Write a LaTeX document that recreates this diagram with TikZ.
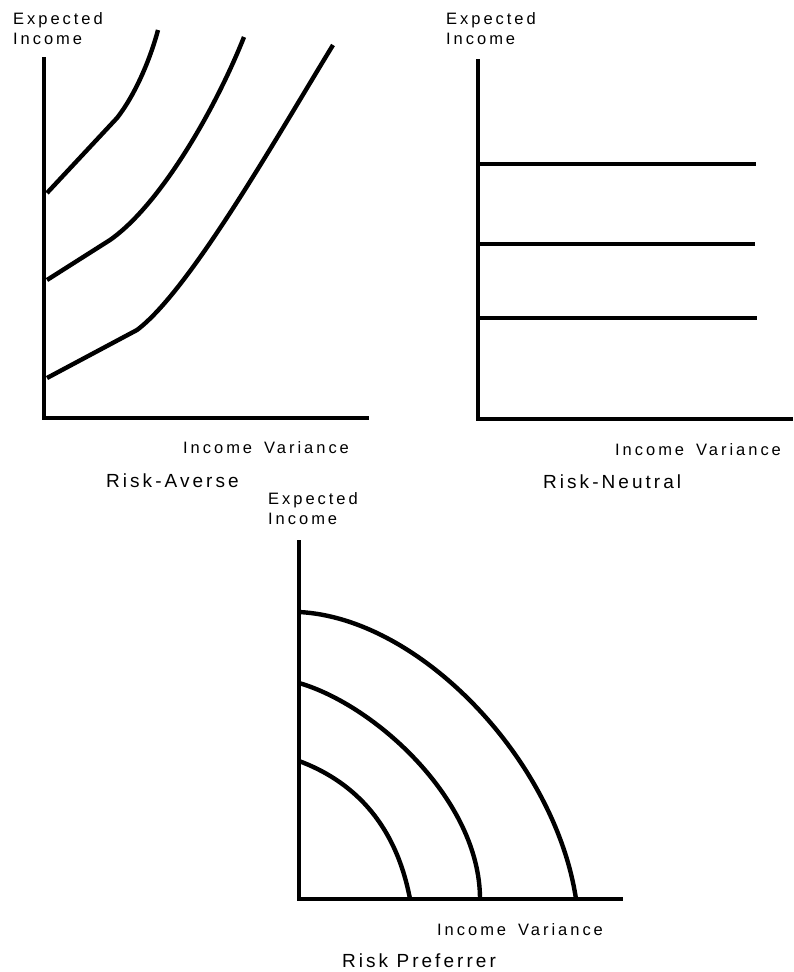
\documentclass[tikz,border=0pt]{standalone}
\usepackage{fontspec}
\newfontfamily\lblfont{Liberation Sans}[LetterSpace=18,WordSpace=1.6]
\newfontfamily\ttlfont{Liberation Sans}[LetterSpace=16]
\usepackage{tikz}

\begin{document}
\begin{tikzpicture}[x=1pt,y=-1pt,
  axis/.style={line width=3.2pt},
  curve/.style={line width=4.4pt},
  ylbl/.style={anchor=base west, inner sep=0pt, align=left, font=\lblfont\fontsize{16.5}{20}\selectfont},
  xlbl/.style={anchor=base west, inner sep=0pt, font=\lblfont\fontsize{16.5}{20}\selectfont},
  title/.style={anchor=base west, inner sep=0pt, font=\ttlfont\fontsize{19}{22}\selectfont}]
\useasboundingbox (0,0) rectangle (793,972);
% Risk-Averse
\draw[axis] (44,57) -- (44,418) -- (369,418);
\draw[curve] (47,193) -- (117,118) .. controls (135,95) and (150,60) .. (158,30);
\draw[curve] (47,280) -- (110,240) .. controls (160,205) and (215,110) .. (244,37);
\draw[curve] (47,378) -- (137,330) .. controls (190,290) and (275,140) .. (333,45);
\node[ylbl] (yA) at (13,44) {Expected\\Income};
\node[xlbl] (xA) at (183,453) {Income Variance};
\node[title] (tA) at (106,487) {Risk-Averse};
% Risk-Neutral
\draw[axis] (478,59) -- (478,419) -- (793,419);
\draw[curve] (478,164) -- (756,164);
\draw[curve] (478,244) -- (755,244);
\draw[curve] (478,318) -- (757,318);
\node[ylbl] (yN) at (446,44) {Expected\\Income};
\node[xlbl] (xN) at (615,455) {Income Variance};
\node[title] (tN) at (543,488) {Risk-Neutral};
% Risk Preferrer
\draw[axis] (299,540) -- (299,899) -- (623,899);
\draw[curve] (299,612) .. controls (420,618) and (555,760) .. (576,899);
\draw[curve] (299,683) .. controls (375,705) and (480,800) .. (480,899);
\draw[curve] (299,761) .. controls (350,780) and (395,820) .. (410,899);
\node[ylbl] (yP) at (268,524) {Expected\\Income};
\node[xlbl] (xP) at (437,935) {Income Variance};
\node[title] (tP) at (342,967) {Risk Preferrer};
\end{tikzpicture}
\end{document}
